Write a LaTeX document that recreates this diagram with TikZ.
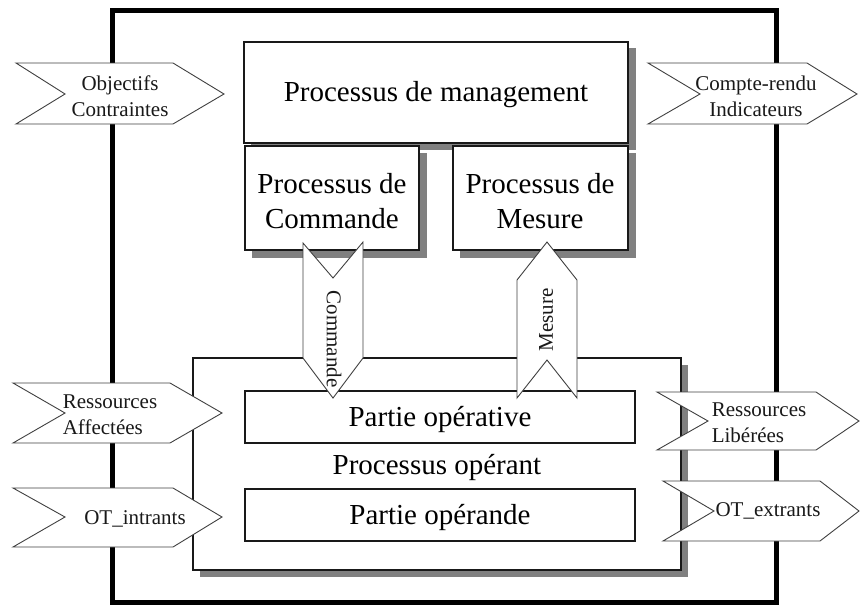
\documentclass[tikz,border=0pt]{standalone}
\usepackage{fontspec}
\setmainfont{Liberation Serif}
\begin{document}
\begin{tikzpicture}[x=1pt,y=-1pt,
  frame/.style={line width=5pt,draw=black},
  shadowbox/.style={fill=black!50,draw=none},
  procbox/.style={draw=black!90,line width=1.1pt,fill=white},
  chev/.style={draw=black!75,line width=0.9pt,fill=white},
  bigtxt/.style={font=\fontsize{29}{35}\selectfont,align=center,inner sep=0pt},
  smalltxt/.style={font=\fontsize{21}{26}\selectfont,align=center,inner sep=0pt,text=black!90}]
\useasboundingbox (0,0) rectangle (860,606);
% outer frame
\draw[frame] (112,10) rectangle (776,602);
% shadows
\fill[shadowbox] (251,48) rectangle (636,150);
\fill[shadowbox] (252,153) rectangle (427,258);
\fill[shadowbox] (460,153) rectangle (636,258);
\fill[shadowbox] (200,365) rectangle (688,577);
% boxes
\draw[procbox] (244,42) rectangle (628,143);
\node[bigtxt] (mgmt) at (436,95) {Processus de management};
\draw[procbox] (245,146) rectangle (419,250);
\node[bigtxt] (cmdp) at (332,201) {Processus de\\Commande};
\draw[procbox] (453,146) rectangle (628,250);
\node[bigtxt] (mesp) at (540,201) {Processus de\\Mesure};
\draw[procbox] (193,358) rectangle (681,570);
\node[bigtxt] (oper) at (437,467) {Processus opérant};
\draw[procbox] (245,391) rectangle (635,443);
\node[bigtxt] (opve) at (440,419) {Partie opérative};
\draw[procbox] (245,489) rectangle (635,541);
\node[bigtxt] (opde) at (440,517) {Partie opérande};
% vertical arrows
\draw[chev] (303,243) -- (333,278) -- (363,242) -- (363,358) -- (333,398) -- (303,358) -- cycle;
\node[smalltxt,rotate=-90] (cmd) at (334,339) {Commande};
\draw[chev] (547,242) -- (577,280) -- (577,398) -- (547,360) -- (517,398) -- (517,280) -- cycle;
\node[smalltxt,rotate=90] (mes) at (546,320) {Mesure};
% left arrows
\draw[chev] (16,63) -- (173,63) -- (224,94) -- (173,124) -- (16,124) -- (65,94) -- cycle;
\node[smalltxt] (obj) at (120,96) {Objectifs\\Contraintes};
\draw[chev] (13,383) -- (170,383) -- (222,413) -- (170,443) -- (13,443) -- (65,413) -- cycle;
\node[smalltxt,align=left] (raff) at (110,415) {Ressources\\Affectées};
\draw[chev] (13,488) -- (173,488) -- (222,517) -- (173,547) -- (13,547) -- (65,517) -- cycle;
\node[smalltxt] (otin) at (135,519) {OT\_intrants};
% right arrows
\draw[chev] (648,63) -- (807,63) -- (857,94) -- (807,124) -- (648,124) -- (700,94) -- cycle;
\node[smalltxt] (cr) at (756,96) {Compte-rendu\\Indicateurs};
\draw[chev] (657,392) -- (816,392) -- (859,421) -- (816,450) -- (657,450) -- (708,421) -- cycle;
\node[smalltxt,align=left] (rlib) at (759,423) {Ressources\\Libérées};
\draw[chev] (663,481) -- (820,481) -- (859,511) -- (820,541) -- (663,541) -- (714,511) -- cycle;
\node[smalltxt] (otex) at (768,511) {OT\_extrants};
\end{tikzpicture}
\end{document}
